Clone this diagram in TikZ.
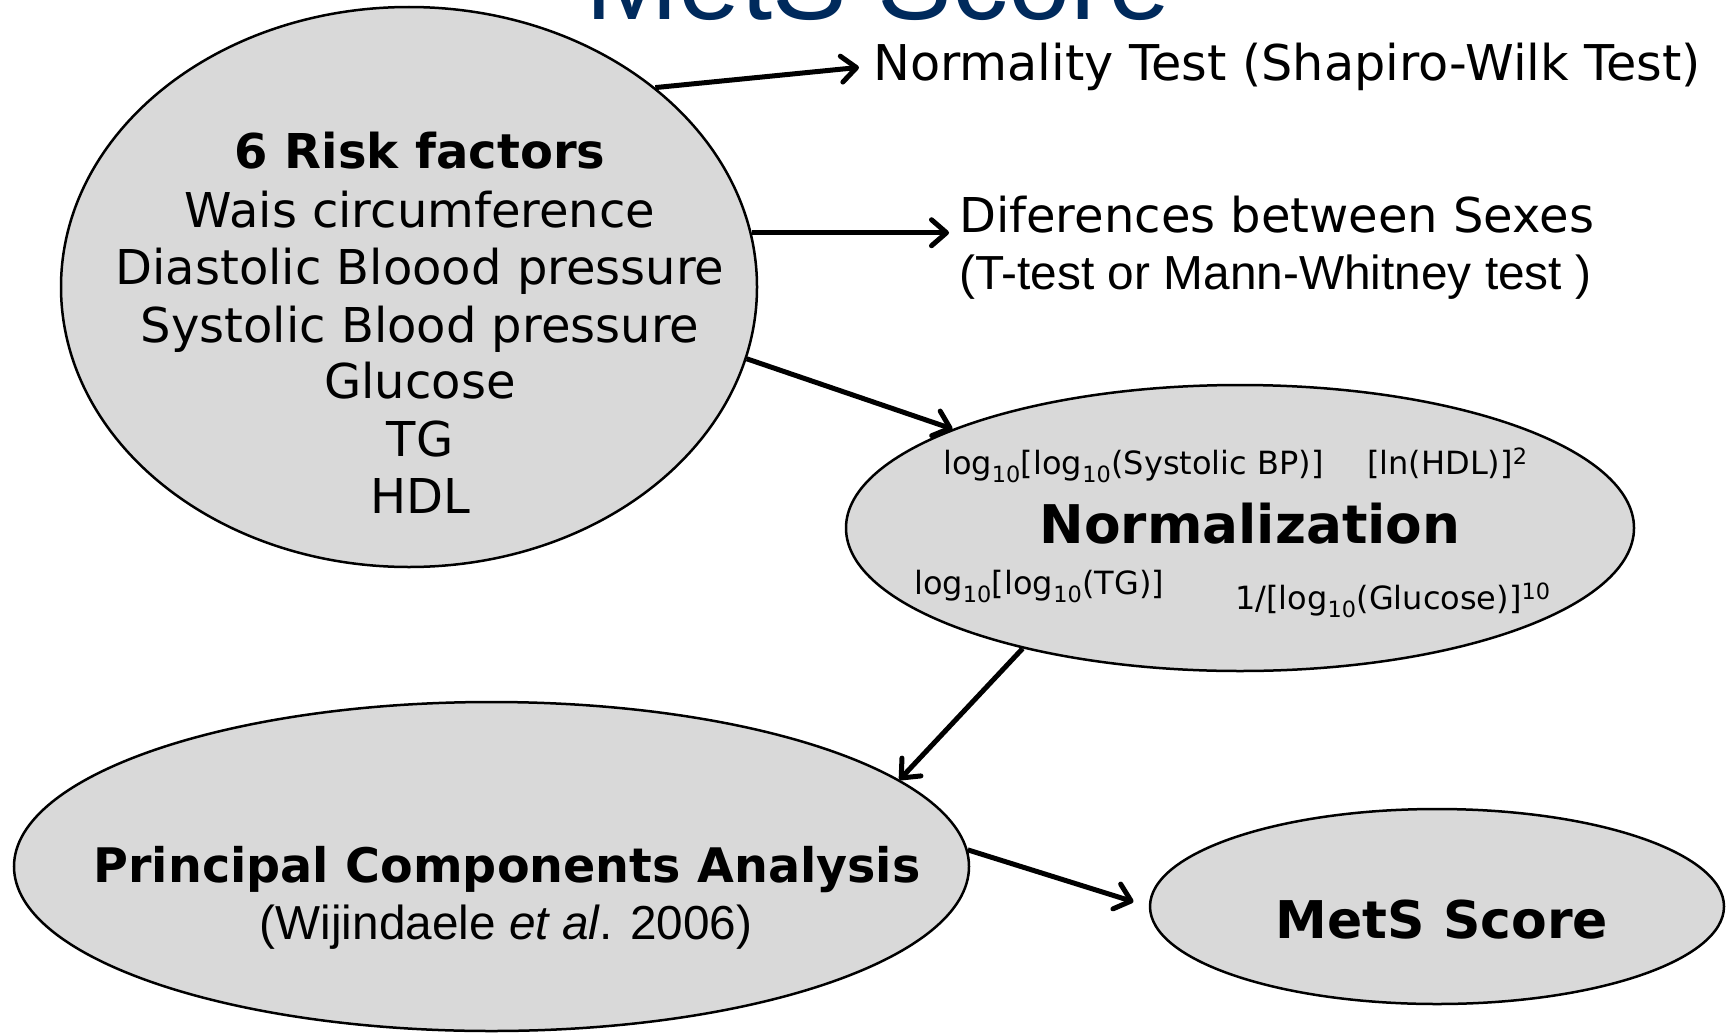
\documentclass[tikz,border=0pt]{standalone}
\usepackage{fontspec}
\setmainfont{DejaVu Sans}
\newfontfamily\arialf{Liberation Sans}
\usetikzlibrary{shapes.geometric,arrows.meta,calc}
\definecolor{navy}{RGB}{0,42,92}
\definecolor{ellfill}{RGB}{217,217,217}
\begin{document}
\begin{tikzpicture}[x=1pt,y=-1pt,
  ell/.style={ellipse, draw=black, line width=2.5pt, fill=ellfill, inner sep=0pt},
  txt/.style={inner sep=0pt, anchor=base},
  big/.style={font=\fontsize{48}{57}\selectfont},
  small/.style={font=\fontsize{32}{38}\selectfont},
  arr/.style={line width=5pt, -{Straight Barb[length=15pt,width=26pt,line width=5pt,round]}}]
\useasboundingbox (0,0) rectangle (1726,1033);
\fill[white] (0,0) rectangle (1726,1033);

% ellipses
\node[ell, minimum width=696pt, minimum height=560pt] (rf) at (409,287) {};
\node[ell, minimum width=788pt, minimum height=286pt] (nrm) at (1240,528) {};
\node[ell, minimum width=955pt, minimum height=329pt] (pca) at (491.5,866.5) {};
\node[ell, minimum width=574pt, minimum height=195pt] (mets) at (1437,906.5) {};

% title
\node[txt, text=navy, font=\arialf\fontsize{112}{120}\selectfont] (title) at (878,20) {MetS Score};

% risk factors
\node[txt, font=\bfseries\fontsize{48}{58}\selectfont] (rf0) at (420,168) {6 Risk factors};
\node[txt, big] (rf1) at (420,227) {Wais circumference};
\node[txt, big] (rf2) at (420,284) {Diastolic Bloood pressure};
\node[txt, big] (rf3) at (420,342) {Systolic Blood pressure};
\node[txt, big] (rf4) at (420,398) {Glucose};
\node[txt, big] (rf5) at (420,456) {TG};
\node[txt, big] (rf6) at (420,513) {HDL};

% right texts
\node[txt, anchor=base west, font=\fontsize{49.3}{58}\selectfont] (nt) at (873,81) {Normality Test (Shapiro-Wilk Test)};
\node[txt, anchor=base west, font=\fontsize{48}{58}\selectfont] (dif1) at (959,232) {Diferences between Sexes};
\node[txt, anchor=base west, font=\arialf\fontsize{47.8}{57}\selectfont] (dif2) at (959,289) {(T-test or Mann-Whitney test )};

% normalization
\node[txt, anchor=base west, small] (n1) at (943,474) {log\textsubscript{10}[log\textsubscript{10}(Systolic BP)]};
\node[txt, anchor=base west, small] (n2) at (1367,474) {[ln(HDL)]\textsuperscript{2}};
\node[txt, font=\bfseries\fontsize{53.3}{63}\selectfont] (n0) at (1250,543) {Normalization};
\node[txt, anchor=base west, small] (n3) at (914,594) {log\textsubscript{10}[log\textsubscript{10}(TG)]};
\node[txt, anchor=base west, small] (n4) at (1235,609) {1/[log\textsubscript{10}(Glucose)]\textsuperscript{10}};

% PCA
\node[txt, font=\bfseries\fontsize{47.6}{57}\selectfont] (p0) at (507,882) {Principal Components Analysis};
\node[txt, font=\arialf\fontsize{47.7}{57}\selectfont] (p1) at (506,939) {(Wijindaele \textit{et al}. 2006)};

% MetS Score
\node[txt, font=\bfseries\fontsize{52}{62}\selectfont] (m0) at (1442,938) {MetS Score};

% arrows
\draw[arr] (rf.39.2) -- ([xshift=-14pt]nt.west);
\draw[arr] (rf.9) -- ($(rf.9 -| dif1.west)+(-10,0)$);
\draw[arr] (rf.-12) -- (nrm.161);
\draw[arr] (nrm.209) -- (pca.12.5);
\draw[arr, shorten >=16pt] (pca.2) -- (mets.west);
\end{tikzpicture}
\end{document}
